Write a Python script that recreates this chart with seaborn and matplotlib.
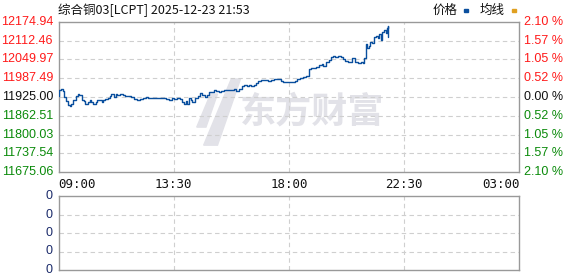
import matplotlib
matplotlib.use("Agg")
import matplotlib.pyplot as plt
import seaborn as sns
import pandas as pd

# ---- data ----
minutes = [0, 2, 6, 10, 14, 18, 22, 26, 30, 35, 40, 45, 49, 54, 59, 63, 68, 73, 77, 82,
           87, 91, 96, 101, 105, 110, 115, 120, 124, 129, 134, 138, 145, 151, 157, 163,
           170, 176, 184, 191, 198, 204, 210, 216, 223, 230, 238, 246, 252, 259, 265,
           271, 277, 284, 289, 293, 298, 302, 306, 310, 314, 320, 327, 331, 337, 343,
           349, 353, 359, 364, 370, 377, 382, 388, 394, 400, 406, 411, 417, 424, 429,
           435, 441, 447, 452, 458, 464, 468, 474, 480, 486, 492, 497, 504, 510, 515,
           521, 527, 533, 540, 547, 554, 560, 566, 574, 580, 586, 591, 598, 604, 610,
           617, 621, 628, 633, 639, 643, 649, 654, 661, 667, 672, 678, 683, 688, 692,
           696, 702, 708, 714, 717, 720, 724, 727, 731, 735, 739, 744, 749, 752, 755,
           759, 763, 767, 769, 772, 773]
prices = [11929, 11949, 11953, 11944, 11925, 11911, 11900, 11894, 11902, 11914, 11927,
          11936, 11932, 11916, 11912, 11903, 11910, 11916, 11907, 11901, 11910, 11914,
          11914, 11910, 11916, 11918, 11921, 11929, 11936, 11925, 11936, 11932, 11934,
          11932, 11929, 11927, 11925, 11918, 11916, 11918, 11923, 11925, 11923, 11923,
          11922, 11922, 11922, 11922, 11918, 11914, 11921, 11918, 11922, 11918, 11910,
          11903, 11911, 11901, 11922, 11916, 11907, 11921, 11929, 11937, 11932, 11926,
          11932, 11943, 11940, 11948, 11945, 11940, 11945, 11948, 11947, 11947, 11948,
          11952, 11945, 11952, 11960, 11965, 11963, 11965, 11962, 11965, 11970, 11978,
          11980, 11981, 11981, 11978, 11981, 11985, 11985, 11985, 11978, 11976, 11974,
          11974, 11976, 11978, 11985, 11989, 11992, 11996, 12018, 12022, 12020, 12026,
          12031, 12033, 12029, 12040, 12048, 12058, 12062, 12059, 12062, 12059, 12051,
          12044, 12040, 12042, 12053, 12056, 12040, 12037, 12040, 12037, 12053, 12100,
          12086, 12095, 12106, 12103, 12125, 12128, 12120, 12133, 12114, 12142, 12147,
          12136, 12153, 12162, 12125]

price_ticks = [12174.94, 12112.46, 12049.97, 11987.49, 11925.00, 11862.51, 11800.03,
               11737.54, 11675.06]
pct_ticks = ["2.10 %", "1.57 %", "1.05 %", "0.52 %", "0.00 %", "0.52 %", "1.05 %",
             "1.57 %", "2.10 %"]
time_ticks = [0, 270, 540, 810, 1080]
time_labels = ["09:00", "13:30", "18:00", "22:30", "03:00"]
title_text = "综合铜03[LCPT] 2025-12-23 21:53"
legend_items = ["价格", "均线"]
vol_labels = ["0", "0", "0", "0", "0"]

# ---- style ----
sns.set_style("white")
plt.rcParams['font.family'] = ['Liberation Sans', 'Noto Sans CJK SC', 'DejaVu Sans']

W, H = 578, 276
fig = plt.figure(figsize=(W / 100, H / 100), dpi=100)

def ax_rect(l, t, r, b):
    return [l / W, 1 - b / H, (r - l) / W, (b - t) / H]

ax = fig.add_axes(ax_rect(58.5, 21.7, 519.3, 172.3))
ax2 = fig.add_axes(ax_rect(58.5, 196, 519.3, 270))

grid_c = "#cfcfcf"
frame_c = "#999999"
line_c = "#0a4f9e"
wm_c = "#e2e2e8"

df = pd.DataFrame({"t": minutes, "p": prices})

# watermark (logo swoosh shape + brand text)
logo = plt.Polygon([(0.315, 0.18), (0.345, 0.18), (0.395, 0.62), (0.375, 0.62)],
                   closed=True, transform=ax.transAxes, color=wm_c, zorder=0)
ax.add_patch(logo)
logo2 = plt.Polygon([(0.300, 0.30), (0.320, 0.30), (0.345, 0.52), (0.330, 0.52)],
                    closed=True, transform=ax.transAxes, color=wm_c, zorder=0)
ax.add_patch(logo2)
ax.text(0.55, 0.40, "东方财富", transform=ax.transAxes, fontsize=26,
        family=['Noto Sans CJK SC'], fontweight='bold', color=wm_c,
        ha='center', va='center', zorder=0)

sns.lineplot(data=df, x="t", y="p", ax=ax, color=line_c, linewidth=1.0,
             drawstyle='steps-post', zorder=3)

ax.set_xlim(0, 1080)
ax.set_ylim(price_ticks[-1], price_ticks[0])
ax.set_xlabel("")
ax.set_ylabel("")
ax.set_xticks(time_ticks)
ax.set_yticks(price_ticks)
ax.set_xticklabels([])
ax.set_yticklabels([])
ax.tick_params(length=0)
for v in price_ticks[1:-1]:
    ax.axhline(v, color=grid_c, linestyle=(0, (4, 3)), linewidth=0.8, zorder=1)
for v in time_ticks[1:-1]:
    ax.axvline(v, color=grid_c, linestyle=(0, (4, 3)), linewidth=0.8, zorder=1)
for s in ax.spines.values():
    s.set_color(frame_c)
    s.set_linewidth(1.0)

red = "#ff1a1a"
green = "#0a8a0a"
black = "#111111"
for i, (v, pl) in enumerate(zip(price_ticks, pct_ticks)):
    c = red if i < 4 else (black if i == 4 else green)
    ax.text(-0.012, v, f"{v:.2f}", transform=ax.get_yaxis_transform(),
            ha='right', va='center', fontsize=9, color=c)
    ax.text(1.01, v, pl, transform=ax.get_yaxis_transform(),
            ha='left', va='center', fontsize=9, color=c)

for i, (t, lab) in enumerate(zip(time_ticks, time_labels)):
    ha = 'left' if i == 0 else ('right' if i == len(time_ticks) - 1 else 'center')
    ax.text(t, -0.035, lab, transform=ax.get_xaxis_transform(), ha=ha, va='top',
            fontsize=9, color=black, family=['DejaVu Sans Mono'])

# title and legend
fig.text(58.5 / W, 1 - 10 / H, title_text, ha='left', va='center', fontsize=9,
         color=black, family=['Noto Sans CJK SC', 'DejaVu Sans'])
fig.text(433 / W, 1 - 10 / H, legend_items[0], ha='left', va='center', fontsize=9,
         color=black, family=['Noto Sans CJK SC'])
fig.patches.append(plt.Rectangle((463.5 / W, 1 - 12 / H), 4 / W, 3 / H,
                                 transform=fig.transFigure, color=line_c))
fig.text(480 / W, 1 - 10 / H, legend_items[1], ha='left', va='center', fontsize=9,
         color=black, family=['Noto Sans CJK SC'])
fig.patches.append(plt.Rectangle((511.5 / W, 1 - 12 / H), 4 / W, 3 / H,
                                 transform=fig.transFigure, color="#e0a020"))

# lower volume panel
ax2.set_xlim(0, 1080)
ax2.set_ylim(0, 4)
ax2.set_xticks([])
ax2.set_yticks([])
for v in [1, 2, 3]:
    ax2.axhline(v, color=grid_c, linestyle=(0, (4, 3)), linewidth=0.8)
for v in time_ticks[1:-1]:
    ax2.axvline(v, color=grid_c, linestyle=(0, (4, 3)), linewidth=0.8)
for s in ax2.spines.values():
    s.set_color(frame_c)
    s.set_linewidth(1.0)
for i, lab in enumerate(vol_labels):
    ax2.text(-0.012, 4 - i, lab, transform=ax2.get_yaxis_transform(),
             ha='right', va='center', fontsize=9, color="#1a2a6a")

fig.savefig("out.png", dpi=100)
